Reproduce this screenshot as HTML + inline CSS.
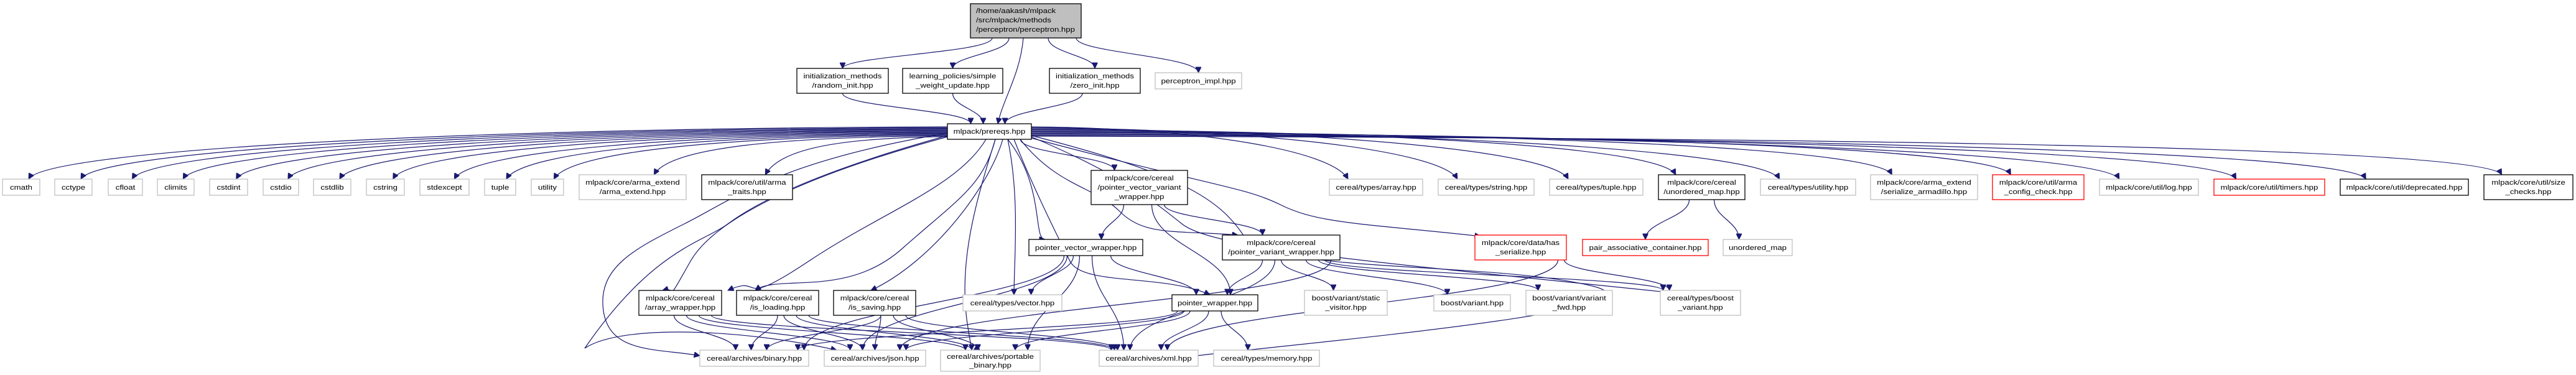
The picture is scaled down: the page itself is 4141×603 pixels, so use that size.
<!DOCTYPE html>
<html><head><meta charset="utf-8">
<style>
html,body{margin:0;padding:0;background:#fff;}
svg{display:block;}
text{font-family:"Liberation Sans",Arial,sans-serif;font-size:11px;fill:#000;}
.b{fill:#fff;stroke:#000;stroke-width:1.3}
.g{fill:#fff;stroke:#bfbfbf;stroke-width:1.3}
.r{fill:#fff;stroke:#ff0000;stroke-width:1.3}
.e{fill:none;stroke:#191970;stroke-width:1.2}
</style></head><body>
<svg id="s" width="4141" height="603" viewBox="0 0 4141 603" xmlns="http://www.w3.org/2000/svg">
<defs><marker id="a" viewBox="0 0 10 10" refX="10" refY="5" markerUnits="userSpaceOnUse" markerWidth="11" markerHeight="9" orient="auto"><path d="M0,0 L10,5 L0,10 z" fill="#191970" stroke="#191970"/></marker></defs>
<g id="edges"></g>
<g id="nodes">
<rect x="1560" y="6" width="178" height="55" fill="#bfbfbf" stroke="#000" stroke-width="1.3"/>
</g>
<g>
<text transform="translate(1569,21) scale(1.2,1)">/home/aakash/mlpack</text>
<text transform="translate(1569,36) scale(1.2,1)">/src/mlpack/methods</text>
<text transform="translate(1569,51) scale(1.2,1)">/perceptron/perceptron.hpp</text>
</g>
<g text-anchor="middle">
<text transform="translate(1354.5,126) scale(1.2,1)">initialization_methods</text><text transform="translate(1354.5,141) scale(1.2,1)">/random_init.hpp</text>
<text transform="translate(1531.5,126) scale(1.2,1)">learning_policies/simple</text><text transform="translate(1531.5,141) scale(1.2,1)">_weight_update.hpp</text>
<text transform="translate(1760,126) scale(1.2,1)">initialization_methods</text><text transform="translate(1760,141) scale(1.2,1)">/zero_init.hpp</text>
<text transform="translate(1926.5,134) scale(1.2,1)">perceptron_impl.hpp</text>
<text transform="translate(1590.5,215) scale(1.2,1)">mlpack/prereqs.hpp</text>
<text transform="translate(34,305) scale(1.2,1)">cmath</text>
<text transform="translate(118,305) scale(1.2,1)">cctype</text>
<text transform="translate(201.5,305) scale(1.2,1)">cfloat</text>
<text transform="translate(282.5,305) scale(1.2,1)">climits</text>
<text transform="translate(367.5,305) scale(1.2,1)">cstdint</text>
<text transform="translate(451.5,305) scale(1.2,1)">cstdio</text>
<text transform="translate(534,305) scale(1.2,1)">cstdlib</text>
<text transform="translate(619.5,305) scale(1.2,1)">cstring</text>
<text transform="translate(714.5,305) scale(1.2,1)">stdexcept</text>
<text transform="translate(804,305) scale(1.2,1)">tuple</text>
<text transform="translate(880,305) scale(1.2,1)">utility</text>
<text transform="translate(1017,297) scale(1.2,1)">mlpack/core/arma_extend</text><text transform="translate(1017,312) scale(1.2,1)">/arma_extend.hpp</text>
<text transform="translate(1201,297) scale(1.2,1)">mlpack/core/util/arma</text><text transform="translate(1201,312) scale(1.2,1)">_traits.hpp</text>
<text transform="translate(1831.5,290) scale(1.2,1)">mlpack/core/cereal</text><text transform="translate(1831.5,305) scale(1.2,1)">/pointer_vector_variant</text><text transform="translate(1831.5,320) scale(1.2,1)">_wrapper.hpp</text>
<text transform="translate(2212,305) scale(1.2,1)">cereal/types/array.hpp</text>
<text transform="translate(2389,305) scale(1.2,1)">cereal/types/string.hpp</text>
<text transform="translate(2566,305) scale(1.2,1)">cereal/types/tuple.hpp</text>
<text transform="translate(2735.5,297) scale(1.2,1)">mlpack/core/cereal</text><text transform="translate(2735.5,312) scale(1.2,1)">/unordered_map.hpp</text>
<text transform="translate(2906.5,305) scale(1.2,1)">cereal/types/utility.hpp</text>
<text transform="translate(3093,297) scale(1.2,1)">mlpack/core/arma_extend</text><text transform="translate(3093,312) scale(1.2,1)">/serialize_armadillo.hpp</text>
<text transform="translate(3276.5,297) scale(1.2,1)">mlpack/core/util/arma</text><text transform="translate(3276.5,312) scale(1.2,1)">_config_check.hpp</text>
<text transform="translate(3454.5,305) scale(1.2,1)">mlpack/core/util/log.hpp</text>
<text transform="translate(3648,305) scale(1.2,1)">mlpack/core/util/timers.hpp</text>
<text transform="translate(3865,305) scale(1.2,1)">mlpack/core/util/deprecated.hpp</text>
<text transform="translate(4064.5,297) scale(1.2,1)">mlpack/core/util/size</text><text transform="translate(4064.5,312) scale(1.2,1)">_checks.hpp</text>
<text transform="translate(1745.5,402) scale(1.2,1)">pointer_vector_wrapper.hpp</text>
<text transform="translate(2059.5,394) scale(1.2,1)">mlpack/core/cereal</text><text transform="translate(2059.5,409) scale(1.2,1)">/pointer_variant_wrapper.hpp</text>
<text transform="translate(2444.5,394) scale(1.2,1)">mlpack/core/data/has</text><text transform="translate(2444.5,409) scale(1.2,1)">_serialize.hpp</text>
<text transform="translate(2645,402) scale(1.2,1)">pair_associative_container.hpp</text>
<text transform="translate(2825.5,402) scale(1.2,1)">unordered_map</text>
<text transform="translate(1093.5,483) scale(1.2,1)">mlpack/core/cereal</text><text transform="translate(1093.5,498) scale(1.2,1)">/array_wrapper.hpp</text>
<text transform="translate(1250,483) scale(1.2,1)">mlpack/core/cereal</text><text transform="translate(1250,498) scale(1.2,1)">/is_loading.hpp</text>
<text transform="translate(1406,483) scale(1.2,1)">mlpack/core/cereal</text><text transform="translate(1406,498) scale(1.2,1)">/is_saving.hpp</text>
<text transform="translate(1627.5,491) scale(1.2,1)">cereal/types/vector.hpp</text>
<text transform="translate(1953,491) scale(1.2,1)">pointer_wrapper.hpp</text>
<text transform="translate(2163.5,483) scale(1.2,1)">boost/variant/static</text><text transform="translate(2163.5,498) scale(1.2,1)">_visitor.hpp</text>
<text transform="translate(2366.5,491) scale(1.2,1)">boost/variant.hpp</text>
<text transform="translate(2522.5,483) scale(1.2,1)">boost/variant/variant</text><text transform="translate(2522.5,498) scale(1.2,1)">_fwd.hpp</text>
<text transform="translate(2733.5,483) scale(1.2,1)">cereal/types/boost</text><text transform="translate(2733.5,498) scale(1.2,1)">_variant.hpp</text>
<text transform="translate(1212.5,580) scale(1.2,1)">cereal/archives/binary.hpp</text>
<text transform="translate(1406.5,580) scale(1.2,1)">cereal/archives/json.hpp</text>
<text transform="translate(1592,577) scale(1.2,1)">cereal/archives/portable</text><text transform="translate(1592,591) scale(1.2,1)">_binary.hpp</text>
<text transform="translate(1846.5,580) scale(1.2,1)">cereal/archives/xml.hpp</text>
<text transform="translate(2036,580) scale(1.2,1)">cereal/types/memory.hpp</text>
</g>
</svg>
<script>
(function(){
var N={
rnd:[1281,110,1428,150,'b'],swu:[1451,110,1612,150,'b'],zro:[1687,110,1833,150,'b'],imp:[1857,117,1996,143,'g'],
pr:[1523,199,1658,224,'b'],
cmath:[4,288,64,314,'g'],cctype:[88,288,148,314,'g'],cfloat:[174,288,229,314,'g'],climits:[253,288,312,314,'g'],
cstdint:[337,288,398,314,'g'],cstdio:[423,288,480,314,'g'],cstdlib:[504,288,564,314,'g'],cstring:[589,288,650,314,'g'],
stdexc:[675,288,754,314,'g'],tuple:[779,288,829,314,'g'],utility:[854,288,906,314,'g'],
armext:[931,281,1103,321,'g'],armtr:[1128,281,1274,321,'b'],pvvw:[1754,274,1909,329,'b'],
tarr:[2137,288,2287,314,'g'],tstr:[2312,288,2466,314,'g'],ttup:[2491,288,2641,314,'g'],umh:[2666,281,2805,321,'b'],
tutil:[2830,288,2983,314,'g'],serarm:[3007,281,3179,321,'g'],acc:[3203,281,3350,321,'r'],log:[3375,288,3534,314,'g'],
tim:[3559,288,3737,314,'r'],dep:[3762,288,3968,314,'b'],size:[3993,281,4136,321,'b'],
pvw:[1654,385,1837,411,'b'],pvar:[1965,378,2154,418,'b'],hs:[2371,378,2518,418,'r'],pac:[2544,385,2746,411,'r'],um:[2770,385,2881,411,'g'],
aw:[1027,467,1160,507,'b'],isl:[1184,467,1316,507,'b'],iss:[1340,467,1472,507,'b'],tvec:[1548,474,1707,500,'g'],
pw:[1884,474,2022,500,'b'],sv:[2097,467,2230,507,'g'],bv:[2305,474,2428,500,'g'],vf:[2453,467,2592,507,'g'],tbv:[2669,467,2798,507,'g'],
bin:[1125,563,1300,589,'g'],json:[1325,563,1488,589,'g'],pbin:[1512,563,1672,597,'g'],xml:[1767,563,1926,589,'g'],mem:[1951,563,2121,589,'g']
};
var ns='http://www.w3.org/2000/svg',eg=document.getElementById('edges');
function P(d){var p=document.createElementNS(ns,'path');p.setAttribute('d',d);p.setAttribute('class','e');p.setAttribute('marker-end','url(#a)');eg.appendChild(p);}
function cx(n){return (N[n][0]+N[n][2])/2;}
function down(s,t,so,to){
 var a=N[s],b=N[t];var sx=cx(s)+(so||0),sy=a[3],tx=cx(t)+(to||0),ty=b[1];var dy=ty-sy;
 P('M'+sx+','+sy+' C'+sx+','+(sy+dy*0.45)+' '+tx+','+(ty-dy*0.45)+' '+tx+','+ty);
}
[['rnd',-60],['swu',-30],['zro',40],['imp',90]].forEach(function(e){var b=N[e[0]];var sx=1649+e[1]*0.9,tx=cx(e[0]);P('M'+sx+',61 C'+sx+',85 '+tx+',90 '+tx+','+b[1]);});
P('M1645,61 C1640,120 1612,160 1604,199');
down('rnd','pr',0,-30);down('swu','pr',0,-10);down('zro','pr',-20,25);
var L=['cmath','cctype','cfloat','climits','cstdint','cstdio','cstdlib','cstring','stdexc','tuple','utility','armext','armtr'];
L.forEach(function(n,i){var b=N[n];var sy=204+i*1.3,sx=1523,tx=cx(n)+(b[2]-b[0])*0.2,ty=b[1];
 P('M'+sx+','+sy+' C'+(tx+(sx-tx)*0.45)+','+(sy+2)+' '+(tx+25)+','+(ty-45)+' '+tx+','+ty);});
var R=['tarr','tstr','ttup','umh','tutil','serarm','acc','log','tim','dep','size'];
R.forEach(function(n,i){var b=N[n];var sy=204+i*1.5,sx=1658,tx=b[0]+(b[2]-b[0])*0.2,ty=b[1];
 P('M'+sx+','+sy+' C'+(sx+(tx-sx)*0.55)+','+(sy+2)+' '+(tx-25)+','+(ty-45)+' '+tx+','+ty);});
down('pr','pvvw',50,-40);
P('M1600,224 C1580,300 1540,320 1450,400 S1250,440 1214,467');
P('M1585,224 C1540,300 1420,340 1300,420 S1230,440 1170,467');
P('M1523,220 C1300,280 1150,350 1110,420 S1090,460 1065,467');
P('M1612,224 C1590,300 1500,420 1400,467');
P('M1620,224 C1640,320 1630,420 1630,474');
P('M1630,224 C1660,300 1700,380 1720,420 S1870,440 1945,474');
P('M1640,224 C1700,300 1760,300 1800,340 S1890,370 1990,378');
P('M1600,224 C1570,320 1540,420 1555,520 S1570,560 1565,563');
P('M1620,224 C1680,300 1660,385 1680,385');
P('M1523,214 C1250,260 1180,320 1100,360 S960,430 970,500 S1060,560 1125,572');
P('M1523,218 C1300,280 1210,330 1170,360 S1050,400 940,560 C1000,520 1200,530 1345,563');
P('M1658,222 C1950,300 2000,300 2060,330 S2200,360 2380,380');
P('M1658,220 C1800,280 1850,320 1900,360 S2200,420 2700,472');
P('M1658,218 C1900,280 1960,320 2000,380 S2400,420 2560,460 S2000,560 1900,575');
down('pvvw','pvw',-25,25);down('pvvw','pw',20,25);down('pvvw','pvar',40,-30);
down('umh','pac',-20,0);down('umh','um',20,-30);
down('pvw','tvec',-20,30);down('pvw','pw',40,-30);down('pvw','bin',-35,80);down('pvw','json',-30,-20);down('pvw','pbin',-10,60);down('pvw','xml',10,-40);
down('pw','bin',-60,70);down('pw','json',-50,50);down('pw','pbin',-40,40);down('pw','xml',-10,20);down('pw','mem',10,-30);
down('pvar','pw',-30,20);down('pvar','sv',0,-20);down('pvar','bv',40,-40);down('pvar','vf',60,-50);down('pvar','tbv',70,-60);down('pvar','xml',-10,-30);down('pvar','json',80,40);
down('hs','xml',60,30);down('hs','tbv',70,-50);
['aw','isl','iss'].forEach(function(s,i){down(s,'bin',-10+i*10,-30+i*25);down(s,'json',10,-40+i*20);down(s,'pbin',30,-40+i*10);down(s,'xml',50,-60+i*5);});
var g=document.getElementById('nodes');
for(var k in N){var n=N[k];var r=document.createElementNS(ns,'rect');r.setAttribute('x',n[0]);r.setAttribute('y',n[1]);r.setAttribute('width',n[2]-n[0]);r.setAttribute('height',n[3]-n[1]);r.setAttribute('class',n[4]);g.appendChild(r);}
})();
</script>
</body></html>
